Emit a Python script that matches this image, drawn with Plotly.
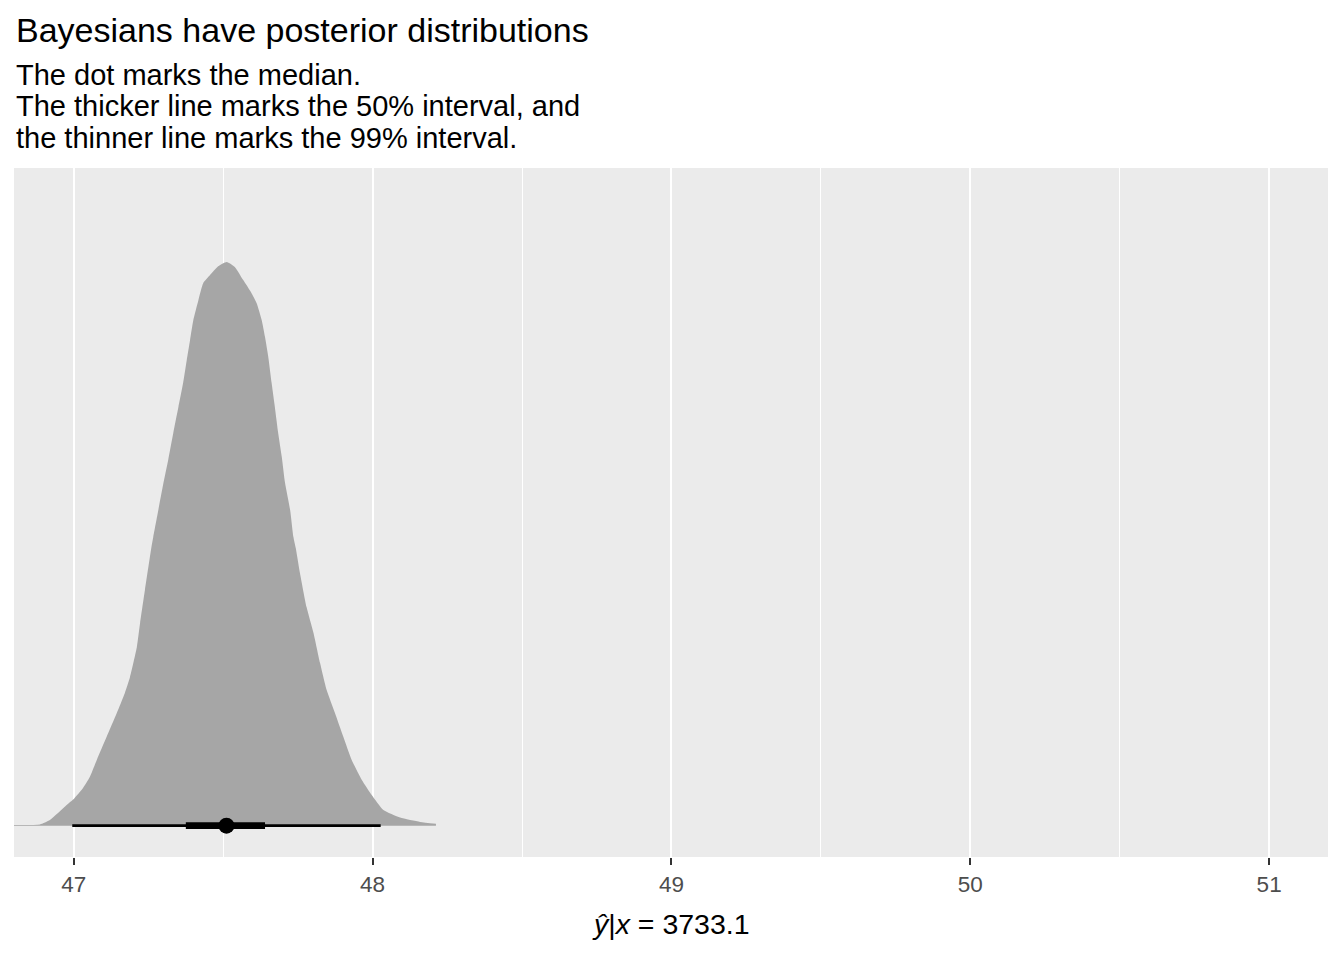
import plotly.graph_objects as go

# Posterior density (x value, scaled height)
dens_x = [46.800, 46.887, 46.920, 46.976, 47.001, 47.031, 47.054, 47.077, 47.110,
          47.144, 47.171, 47.188, 47.211, 47.222, 47.238, 47.261, 47.266, 47.283,
          47.300, 47.316, 47.333, 47.350, 47.366, 47.378, 47.389, 47.400, 47.417,
          47.433, 47.456, 47.483, 47.512, 47.539, 47.567, 47.595, 47.612, 47.629,
          47.640, 47.651, 47.662, 47.673, 47.684, 47.696, 47.707, 47.724, 47.735,
          47.743, 47.757, 47.779, 47.802, 47.824, 47.846, 47.874, 47.902, 47.930,
          47.964, 47.997, 48.036, 48.092, 48.159, 48.212]
dens_y = [0.001, 0.002, 0.009, 0.033, 0.043, 0.060, 0.078, 0.105, 0.142,
          0.180, 0.212, 0.237, 0.285, 0.324, 0.376, 0.448, 0.461, 0.504,
          0.547, 0.584, 0.627, 0.668, 0.707, 0.743, 0.775, 0.807, 0.839,
          0.866, 0.879, 0.893, 0.900, 0.892, 0.871, 0.850, 0.834, 0.807,
          0.780, 0.748, 0.707, 0.668, 0.627, 0.589, 0.547, 0.504, 0.461,
          0.443, 0.403, 0.349, 0.308, 0.260, 0.217, 0.180, 0.142, 0.105,
          0.073, 0.049, 0.025, 0.013, 0.006, 0.003]

median = 47.511
interval_99 = [46.995, 48.027]
interval_50 = [47.375, 47.640]

x_ticks = [47, 48, 49, 50, 51]
x_tick_labels = ["47", "48", "49", "50", "51"]

title = "Bayesians have posterior distributions"
subtitle_lines = ["The dot marks the median.",
                  "The thicker line marks the 50% interval, and",
                  "the thinner line marks the 99% interval."]
x_title = "<i>ŷ</i>|<i>x</i> = 3733.1"

FONT = "Liberation Sans, Arial, sans-serif"

fig = go.Figure()
fig.add_trace(go.Scatter(x=dens_x, y=dens_y, mode="lines", fill="tozeroy",
                         fillcolor="#A6A6A6",
                         line=dict(width=0, color="#A6A6A6", shape="spline", smoothing=0.5),
                         showlegend=False, hoverinfo="skip"))
fig.add_trace(go.Scatter(x=interval_99, y=[0, 0], mode="lines",
                         line=dict(color="black", width=2.8), showlegend=False))
fig.add_trace(go.Scatter(x=interval_50, y=[0, 0], mode="lines",
                         line=dict(color="black", width=6.7), showlegend=False))
fig.add_trace(go.Scatter(x=[median], y=[0], mode="markers",
                         marker=dict(color="black", size=16), showlegend=False))

# page body has an 8px margin; size the figure so it ends at the window edge
OFF = 8
W, H = 1344 - OFF, 960 - OFF
ml, mr, mt, mb = 14 - OFF, 16, 168 - OFF, 103
ph = H - mt - mb
panel_bottom = 857

def py(pix):
    return (panel_bottom - pix) / ph

annotations = [dict(text=title, x=0, y=py(30), xref="paper", yref="paper",
                    xanchor="left", yanchor="middle", showarrow=False,
                    font=dict(family=FONT, size=34, color="black"))]
for txt, pix in zip(subtitle_lines, [75, 106, 138]):
    annotations.append(dict(text=txt, x=0, y=py(pix), xref="paper", yref="paper",
                            xanchor="left", yanchor="middle", showarrow=False,
                            font=dict(family=FONT, size=29, color="black")))
annotations.append(dict(text=x_title, x=0.5, y=py(924), xref="paper", yref="paper",
                        xanchor="center", yanchor="middle", showarrow=False,
                        font=dict(family=FONT, size=28.5, color="black")))

fig.update_layout(
    width=W, height=H,
    margin=dict(l=ml, r=mr, t=mt, b=mb),
    paper_bgcolor="white", plot_bgcolor="#EBEBEB",
    annotations=annotations,
    xaxis=dict(range=[46.8, 51.197], tickvals=x_ticks, ticktext=x_tick_labels,
               showgrid=True, gridcolor="white", gridwidth=2, zeroline=False,
               ticks="outside", ticklen=7, tickwidth=1.5, tickcolor="#333333",
               tickfont=dict(family=FONT, size=22.5, color="#4D4D4D"),
               minor=dict(tickvals=[47.5, 48.5, 49.5, 50.5], showgrid=True,
                          gridcolor="white", gridwidth=1, ticks=""),
               showline=False),
    yaxis=dict(range=[-0.05, 1.05], showgrid=False, zeroline=False,
               showticklabels=False, ticks="", showline=False),
)

fig.write_html("out.html")
